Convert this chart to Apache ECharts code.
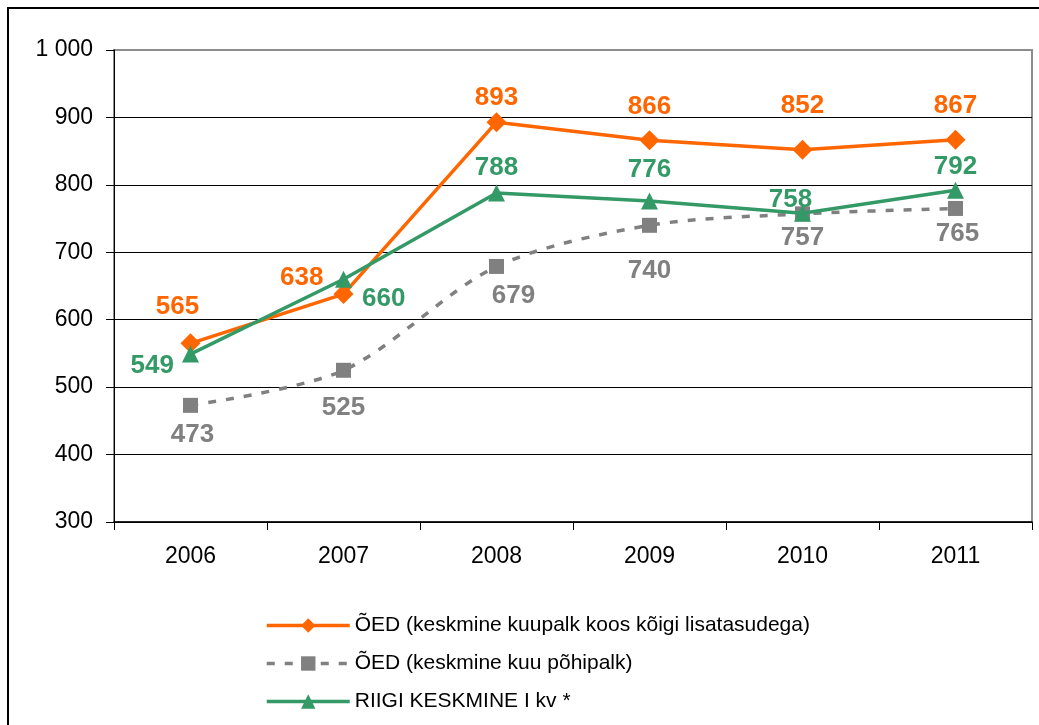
<!DOCTYPE html>
<html>
<head>
<meta charset="utf-8">
<script src="https://cdn.jsdelivr.net/npm/echarts@6/dist/echarts.min.js"></script>
<style>
  html, body { margin: 0; padding: 0; background: #fff; }
  #chart { width: 1039px; height: 725px; }
</style>
</head>
<body>
<div id="chart"></div>
<script>
// ---- data ----
var years = ['2006', '2007', '2008', '2009', '2010', '2011'];
var seriesNames = [
  'ÕED (keskmine kuupalk koos kõigi lisatasudega)',
  'ÕED (keskmine kuu põhipalk)',
  'RIIGI KESKMINE I kv *'
];
var oedTotal = [565, 638, 893, 866, 852, 867];
var oedBase = [473, 525, 679, 740, 757, 765];
var stateAvg = [549, 660, 788, 776, 758, 792];

// ---- label placement tweaks (style only) ----
var orangeLabelCfg = [
  { position: 'top', offset: [-13, -9] },
  { position: 'left', offset: [-6, -16] },
  { offset: [0, 3] },
  { offset: [0, -7] },
  { offset: [0, -17] },
  { offset: [0, -7] }
];
var grayLabelCfg = [
  { offset: [2, 3] },
  { offset: [0, 11] },
  { offset: [17, 3] },
  { offset: [0, 19] },
  { offset: [0, -3] },
  { offset: [2, -1] }
];
var greenLabelCfg = [
  { position: 'left', offset: [-4, 12] },
  { position: 'right', offset: [6, 20] },
  { offset: [0, 0] },
  { offset: [0, -6] },
  { offset: [-12, 12] },
  { offset: [0, 2] }
];

function withLabels(values, cfgs) {
  return values.map(function (v, i) {
    var c = cfgs[i] || {};
    return Object.keys(c).length ? { value: v, label: c } : v;
  });
}

var FONT = '"Liberation Sans", Arial, sans-serif';
var ORANGE = '#FF6600', GRAY = '#808080', GREEN = '#339966';

var chart = echarts.init(document.getElementById('chart'), null, { renderer: 'canvas' });
chart.setOption({
  animation: false,
  backgroundColor: '#fff',
  textStyle: { fontFamily: FONT },
  graphic: [{
    type: 'rect',
    shape: { x: 8, y: 8, width: 1040, height: 730 },
    style: { fill: 'none', stroke: '#000', lineWidth: 2 },
    silent: true, z: -1
  }],
  grid: {
    left: 114, right: 7, top: 50, bottom: 203,
    show: true, borderColor: '#8c8c8c', borderWidth: 2, backgroundColor: 'transparent'
  },
  legend: {
    orient: 'vertical',
    left: 260, top: 610,
    itemWidth: 83, itemHeight: 18, itemGap: 17,
    data: seriesNames,
    lineStyle: { width: 3.5 },
    textStyle: { fontFamily: FONT, fontSize: 21, color: '#000' }
  },
  xAxis: {
    type: 'category',
    data: years,
    boundaryGap: true,
    axisLine: { lineStyle: { color: '#000', width: 1.5 } },
    axisTick: { show: true, length: 8, inside: false, lineStyle: { color: '#000' } },
    axisLabel: { fontFamily: FONT, fontSize: 23, color: '#000', margin: 23 },
    splitLine: { show: false }
  },
  yAxis: {
    type: 'value',
    min: 300, max: 1000, interval: 100,
    axisLine: { show: true, lineStyle: { color: '#000', width: 1 } },
    axisTick: { show: true, length: 8, lineStyle: { color: '#000' } },
    axisLabel: {
      fontFamily: FONT, fontSize: 23, color: '#000', margin: 21,
      formatter: function (v) { return v >= 1000 ? '1 000' : String(v); }
    },
    splitLine: { show: true, lineStyle: { color: ['#000', '#000', '#000', '#000', '#000', '#000', '#000', '#8c8c8c'], width: 1 } }
  },
  series: [
    {
      name: seriesNames[0],
      type: 'line',
      data: withLabels(oedTotal, orangeLabelCfg),
      symbol: 'diamond', symbolSize: 20,
      lineStyle: { color: ORANGE, width: 3.5 },
      itemStyle: { color: ORANGE },
      label: { show: true, position: 'top', distance: 4, color: ORANGE, fontSize: 26, fontWeight: 'bold', fontFamily: FONT },
      z: 3
    },
    {
      name: seriesNames[1],
      type: 'line',
      smooth: 0.3,
      data: withLabels(oedBase, grayLabelCfg),
      symbol: 'rect', symbolSize: 15,
      lineStyle: { color: GRAY, width: 3.5, type: [8, 10] },
      itemStyle: { color: GRAY },
      label: { show: true, position: 'bottom', distance: 6, color: GRAY, fontSize: 26, fontWeight: 'bold', fontFamily: FONT },
      z: 2
    },
    {
      name: seriesNames[2],
      type: 'line',
      data: withLabels(stateAvg, greenLabelCfg),
      symbol: 'triangle', symbolSize: 17,
      lineStyle: { color: GREEN, width: 3.5 },
      itemStyle: { color: GREEN },
      label: { show: true, position: 'top', distance: 4, color: GREEN, fontSize: 26, fontWeight: 'bold', fontFamily: FONT },
      z: 4
    }
  ]
});
</script>
</body>
</html>
